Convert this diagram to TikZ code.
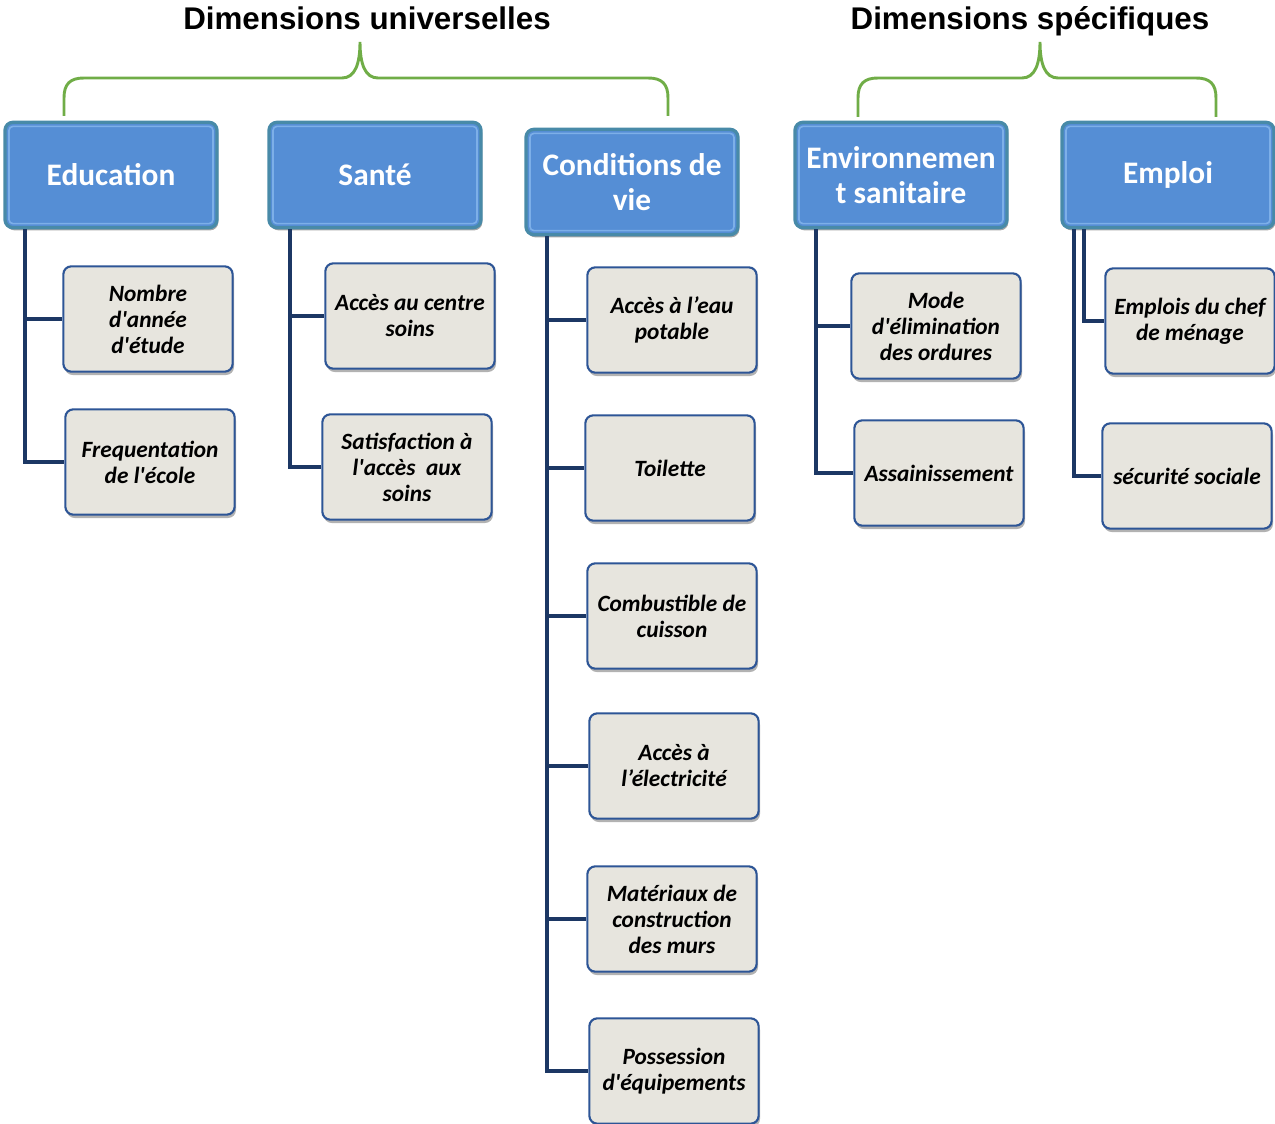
\documentclass[tikz,border=0pt]{standalone}
\usepackage{fontspec}
\setmainfont{Carlito}[Ligatures=TeXOff]
\newfontfamily\titlefont{Liberation Sans}
\usetikzlibrary{shadows}

\definecolor{headblue}{RGB}{85,142,213}
\definecolor{headlight}{RGB}{125,175,232}
\definecolor{headedge}{RGB}{72,138,168}
\definecolor{leafgray}{RGB}{231,229,222}
\definecolor{leafedge}{RGB}{45,85,150}
\definecolor{linknavy}{RGB}{28,55,100}
\definecolor{bracegreen}{RGB}{112,173,71}

\tikzset{
  head/.style={draw=headedge, line width=2.5pt, fill=headblue, rounded corners=6pt,
    minimum width=159pt, minimum height=79pt, inner sep=2pt, text=white, align=center,
    font=\fontsize{23.5}{26}\selectfont\bfseries,
    drop shadow={shadow xshift=1pt, shadow yshift=-2pt, opacity=0.35, fill=black},
    path picture={\draw[headlight, line width=1.2pt, rounded corners=3pt]
      ([shift={(3pt,-3pt)}]path picture bounding box.north west) rectangle
      ([shift={(-3pt,3pt)}]path picture bounding box.south east);}},
  leaf/.style={draw=leafedge, line width=1.6pt, fill=leafgray, rounded corners=6pt,
    minimum width=127pt, minimum height=79pt, inner sep=2pt, align=center,
    font=\fontsize{17.5}{19.5}\selectfont\bfseries\itshape,
    drop shadow={shadow xshift=1pt, shadow yshift=-2.5pt, opacity=0.3, fill=black}},
  link/.style={draw=linknavy, line width=3pt},
  brace/.style={draw=bracegreen, line width=2.2pt},
  title/.style={font=\titlefont\fontsize{23.5}{26}\selectfont\bfseries}
}

\begin{document}
\begin{tikzpicture}[x=0.75pt,y=-0.75pt]
\useasboundingbox (0,0) rectangle (1275,1124);

% titles and braces
\node[title, anchor=base] (univ) at (367,30) {Dimensions universelles};
\node[title, anchor=base] (spec) at (1030,30) {Dimensions spécifiques};
\draw[brace] (64,116) -- (64,98) .. controls (64,84) and (70,78) .. (84,78) -- (342,78)
  .. controls (355,78) and (360,64) .. (360,42) .. controls (360,64) and (365,78) .. (378,78)
  -- (648,78) .. controls (662,78) and (668,84) .. (668,98) -- (668,116);
\draw[brace] (858,117) -- (858,98) .. controls (858,84) and (864,78) .. (878,78) -- (1022,78)
  .. controls (1035,78) and (1040,64) .. (1040,42) .. controls (1040,64) and (1045,78) .. (1058,78)
  -- (1196,78) .. controls (1210,78) and (1216,84) .. (1216,98) -- (1216,117);

% dimensions
\node[head] (edu) at (111,175) {Education};
\node[head] (sante) at (375,175) {Santé};
\node[head] (cdv) at (632,182) {Conditions de\\vie};
\node[head] (env) at (901,175) {Environnemen\\t sanitaire};
\node[head] (emploi) at (1168,175) {Emploi};

% indicators
\node[leaf] (nombre) at (148,319) {Nombre\\d'année\\d'étude};
\node[leaf] (freq) at (150,462) {Frequentation\\de l'école};
\node[leaf] (centre) at (410,316) {Accès au centre\\soins};
\node[leaf] (satis) at (407,467) {Satisfaction à\\l'accès\ \ aux\\soins};
\node[leaf] (eau) at (672,320) {Accès à l’eau\\potable};
\node[leaf] (toil) at (670,468) {Toilette};
\node[leaf] (comb) at (672,616) {Combustible de\\cuisson};
\node[leaf] (elec) at (674,766) {Accès à\\l’électricité};
\node[leaf] (murs) at (672,919) {Matériaux de\\construction\\des murs};
\node[leaf] (equip) at (674,1071) {Possession\\d'équipements};
\node[leaf] (ordures) at (936,326) {Mode\\d'élimination\\des ordures};
\node[leaf] (assain) at (939,473) {Assainissement};
\node[leaf] (chef) at (1190,321) {Emplois du chef\\de ménage};
\node[leaf] (secu) at (1187,476) {sécurité sociale};

% links
\draw[link] ([xshift=16.5pt]edu.south west) |- (nombre.west);
\draw[link] ([xshift=16.5pt]edu.south west) |- (freq.west);
\draw[link] ([xshift=17pt]sante.south west) |- (centre.west);
\draw[link] ([xshift=17pt]sante.south west) |- (satis.west);
\foreach \ind in {eau,toil,comb,elec,murs,equip}
  \draw[link] ([xshift=17pt]cdv.south west) |- (\ind.west);
\draw[link] ([xshift=17pt]env.south west) |- (ordures.west);
\draw[link] ([xshift=17pt]env.south west) |- (assain.west);
\draw[link] ([xshift=18pt]emploi.south west) |- (chef.west);
\draw[link] ([xshift=10.5pt]emploi.south west) |- (secu.west);
\end{tikzpicture}
\end{document}
